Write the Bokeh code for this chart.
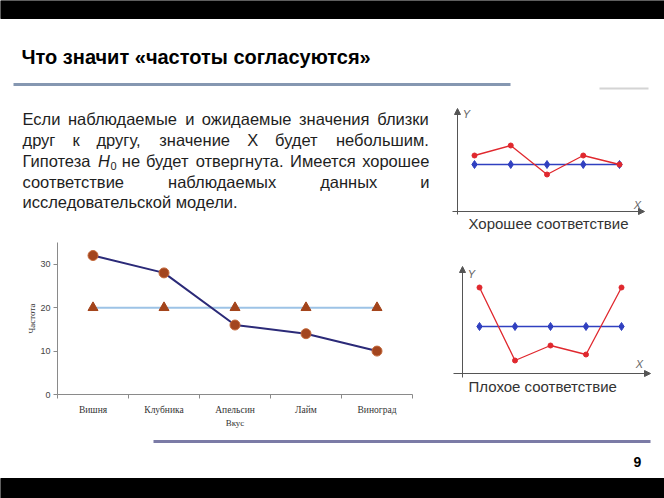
from bokeh.plotting import figure
from bokeh.models import Range1d, FixedTicker, Arrow, NormalHead
from bokeh.layouts import column, row
from bokeh.embed import file_html
from bokeh.resources import INLINE
from bokeh.core.properties import value

# ---------------- data ----------------
categories = ["Вишня", "Клубника", "Апельсин", "Лайм", "Виноград"]
observed = [32, 28, 16, 14, 10]
expected = [20, 20, 20, 20, 20]
y_ticks = [0, 10, 20, 30]

good_x = [1, 2, 3, 4, 5]
good_observed = [5.6, 6.6, 3.7, 5.6, 4.7]
good_expected = [4.7, 4.7, 4.7, 4.7, 4.7]

bad_x = [1, 2, 3, 4, 5]
bad_observed = [8.6, 1.3, 2.8, 1.9, 8.6]
bad_expected = [4.7, 4.7, 4.7, 4.7, 4.7]

title_text = "Что значит «частоты согласуются»"
para_lines = [
    ["Если", "наблюдаемые", "и", "ожидаемые", "значения", "близки"],
    ["друг", "к", "другу,", "значение", "Х", "будет", "небольшим."],
    ["Гипотеза", "H0", "не", "будет", "отвергнута.", "Имеется", "хорошее"],
    ["соответствие", "наблюдаемых", "данных", "и"],
    ["исследовательской модели."],
]
good_caption = "Хорошее соответствие"
bad_caption = "Плохое соответствие"
page_number = "9"

SANS = value("Liberation Sans")


def canvas(w, h, x0, y0):
    p = figure(width=w, height=h, x_range=Range1d(x0, x0 + w), y_range=Range1d(y0 + h, y0),
               output_backend="svg", toolbar_location=None, min_border=0,
               x_axis_type=None, y_axis_type=None)
    p.grid.visible = False
    p.outline_line_color = None
    p.background_fill_color = "white"
    p.border_fill_color = "white"
    return p


def draw_schematic(p, X, Y, ax_x, ax_y_top, ax_y_bot, ax_x_left, ax_x_right,
                   ylab, xlab, cap_xy, caption, xv, obs, exp, rn="default"):
    ac = "#555555"
    kw = dict(x_range_name=rn, y_range_name=rn)
    p.add_layout(Arrow(end=NormalHead(size=6, fill_color=ac, line_color=ac),
                       x_start=X(ax_x), y_start=Y(ax_y_bot), x_end=X(ax_x), y_end=Y(ax_y_top),
                       line_color=ac, line_width=1, **kw))
    p.add_layout(Arrow(end=NormalHead(size=6, fill_color=ac, line_color=ac),
                       x_start=X(ax_x_left), y_start=0, x_end=X(ax_x_right), y_end=0,
                       line_color=ac, line_width=1, **kw))
    p.text(x=[X(ylab[0]), X(xlab[0])], y=[Y(ylab[1]), Y(xlab[1])], text=["Y", "X"],
           text_font=SANS, text_font_size="11px", text_font_style="italic",
           text_color="#666666", text_align="center", text_baseline="middle", **kw)
    p.text(x=[X(cap_xy[0])], y=[Y(cap_xy[1])], text=[caption], text_font=SANS,
           text_font_size="15px", text_color="#333333", text_align="left",
           text_baseline="middle", **kw)
    p.line(xv, exp, line_color="#3040c0", line_width=1.5, **kw)
    p.scatter(xv, exp, marker="diamond", size=8, fill_color="#3040c0", line_color="#3040c0", **kw)
    p.line(xv, obs, line_color="#e0282e", line_width=1.3, **kw)
    p.scatter(xv, obs, marker="circle", size=5, fill_color="#e0282e", line_color="#e0282e", **kw)


# ---------------- top canvas: header + paragraph + good-fit sketch ----------------
TOP_H = 235
top = canvas(664, TOP_H, 0, 0)
top.quad(left=[0], right=[664], top=[0], bottom=[18], color="black")
top.text(x=[21], y=[56], text=[title_text], text_font=SANS, text_font_size="20px",
         text_font_style="bold", text_baseline="middle", text_color="black")
top.line([13, 510], [84, 84], line_color="#8597b1", line_width=3)
top.line([599, 648], [88, 88], line_color="#d4d4d4", line_width=2)

W = {'а': 556, 'б': 573, 'в': 531, 'г': 365, 'д': 583, 'е': 556, 'ж': 669, 'з': 458, 'и': 559,
     'й': 559, 'к': 438, 'л': 583, 'м': 688, 'н': 552, 'о': 556, 'п': 542, 'р': 556, 'с': 500,
     'т': 458, 'у': 500, 'ф': 823, 'х': 500, 'ц': 573, 'ч': 521, 'ш': 802, 'щ': 823, 'ъ': 625,
     'ы': 719, 'ь': 521, 'э': 510, 'ю': 750, 'я': 542, 'Е': 667, 'Г': 542, 'И': 719, 'Х': 667,
     'H': 722, ' ': 278, ',': 278, '.': 278, '0': 556}
FS = 16.5
SUB = 11.0


def tw(s, fs):
    return sum(W.get(c, 556) for c in s) * fs / 1000.0


def token_w(t):
    if t == "H0":
        return tw("H", FS) + tw("0", SUB)
    return tw(t, FS)


L, R = 22, 429
line_y = [118, 139, 160, 181, 201]
nx, ny, nt = [], [], []
hx, hy = [], []
sx, sy = [], []
for i, words in enumerate(para_lines):
    y = line_y[i]
    widths = [token_w(w) for w in words]
    if i < len(para_lines) - 1 and len(words) > 1:
        gap = (R - L - sum(widths)) / (len(words) - 1)
    else:
        gap = tw(" ", FS)
    x = L
    for w, wd in zip(words, widths):
        if w == "H0":
            hx.append(x); hy.append(y)
            sx.append(x + tw("H", FS) + 0.5); sy.append(y + 5)
        else:
            nx.append(x); ny.append(y); nt.append(w)
        x += wd + gap
top.text(x=nx, y=ny, text=nt, text_font=SANS, text_font_size=f"{FS}px",
         text_baseline="middle", text_align="left", text_color="#1e1e1e")
top.text(x=hx, y=hy, text=["H"] * len(hx), text_font=SANS, text_font_size=f"{FS}px",
         text_font_style="italic", text_baseline="middle", text_align="left", text_color="#1e1e1e")
top.text(x=sx, y=sy, text=["0"] * len(sx), text_font=SANS, text_font_size=f"{SUB}px",
         text_baseline="middle", text_align="left", text_color="#1e1e1e")

# good-fit sketch mapped through its own ranges over the top canvas
gX = lambda px: 1 + (px - 474) / 36.25
gY = lambda py: (211 - py) / 10.0
top.extra_x_ranges = {"g": Range1d(gX(0), gX(664))}
top.extra_y_ranges = {"g": Range1d(gY(TOP_H), gY(0))}
draw_schematic(top, gX, gY, 457, 108, 214, 452, 644, (466, 113), (637, 204), (468, 223),
               good_caption, good_x, good_observed, good_expected, rn="g")

# ---------------- main chart ----------------
MID_H = 430 - TOP_H
n = len(categories)
xs = [i + 0.5 for i in range(n)]
bounds = [i for i in range(n + 1)]
BT, BB = 242 - TOP_H, 430 - 394
pc = figure(width=440, height=MID_H, x_range=Range1d(0, n), y_range=Range1d(0, 35),
            output_backend="svg", toolbar_location=None,
            min_border_left=57, min_border_right=28, min_border_top=BT, min_border_bottom=BB)
pc.grid.visible = False
pc.outline_line_color = None
pc.xaxis.ticker = FixedTicker(ticks=xs, minor_ticks=bounds)
pc.xaxis.major_label_overrides = {x: c for x, c in zip(xs, categories)}
pc.xaxis.major_tick_out = 0
pc.xaxis.major_tick_in = 0
pc.xaxis.minor_tick_out = 4
pc.xaxis.minor_tick_in = 0
pc.xaxis.major_label_standoff = 6
pc.xaxis.axis_label = "Вкус"
pc.xaxis.axis_label_standoff = 0
pc.yaxis.ticker = FixedTicker(ticks=y_ticks)
pc.yaxis.major_tick_out = 4
pc.yaxis.major_tick_in = 0
pc.yaxis.minor_tick_out = 0
pc.yaxis.minor_tick_in = 0
pc.yaxis.major_label_standoff = 3
pc.yaxis.axis_label = "Частота"
pc.yaxis.axis_label_standoff = 0
for ax in (pc.xaxis, pc.yaxis):
    ax.axis_line_color = "#8a8a8a"
    ax.major_tick_line_color = "#8a8a8a"
    ax.minor_tick_line_color = "#8a8a8a"
    ax.axis_label_text_font = "Liberation Serif"
    ax.axis_label_text_font_size = "9px"
    ax.axis_label_text_font_style = "normal"
    ax.axis_label_text_color = "#333333"
pc.xaxis.major_label_text_font = "Liberation Serif"
pc.xaxis.major_label_text_font_size = "9.5px"
pc.xaxis.major_label_text_color = "#333333"
pc.yaxis.major_label_text_font = "Liberation Sans"
pc.yaxis.major_label_text_font_size = "9px"
pc.yaxis.major_label_text_color = "#444444"

pc.line(xs, expected, line_color="#9dc3e6", line_width=2)
pc.scatter(xs, expected, marker="triangle", size=10, fill_color="#a3441b", line_color="#a3441b")
pc.line(xs, observed, line_color="#2b2a78", line_width=2)
pc.scatter(xs, observed, marker="circle", size=10, fill_color="#a3451e", line_color="#c46a3c")

# ---------------- bad-fit sketch (same vertical borders as main chart) ----------------
bX = lambda px: 1 + (px - 479) / 35.5
bY = lambda py: (373 - py) / 10.0
bad = figure(width=224, height=MID_H, x_range=Range1d(bX(440), bX(664)),
             y_range=Range1d(bY(394), bY(242)), output_backend="svg", toolbar_location=None,
             min_border_left=0, min_border_right=0, min_border_top=BT, min_border_bottom=BB,
             x_axis_type=None, y_axis_type=None)
bad.grid.visible = False
bad.outline_line_color = None
draw_schematic(bad, bX, bY, 462, 266, 377, 453, 650, (471, 273), (639, 363), (468, 386),
               bad_caption, bad_x, bad_observed, bad_expected)

# ---------------- footer ----------------
ftr = canvas(664, 68, 0, 430)
ftr.line([153, 650], [441, 441], line_color="#7b7ba6", line_width=3)
ftr.text(x=[637], y=[461], text=[page_number], text_font=SANS, text_font_size="14px",
         text_font_style="bold", text_align="center", text_baseline="middle", text_color="black")
ftr.quad(left=[0], right=[664], top=[478], bottom=[498], color="black")

layout = column(top, row(pc, bad), ftr)
open("out.html", "w").write(file_html(layout, INLINE))
